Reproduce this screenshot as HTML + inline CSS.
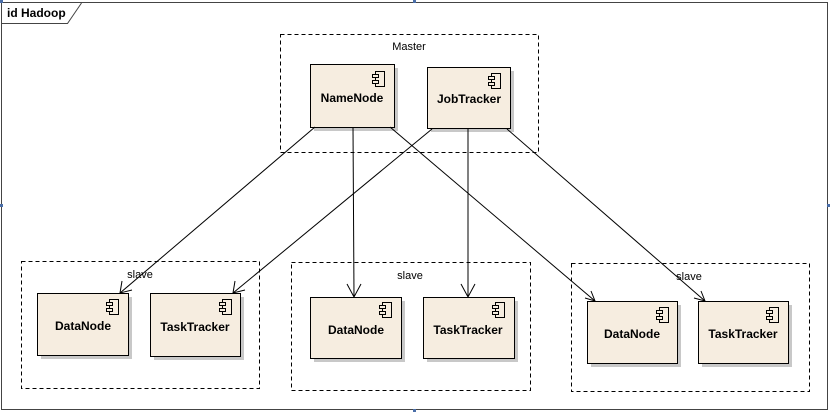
<!DOCTYPE html>
<html><head><meta charset="utf-8"><style>
html,body{margin:0;padding:0;background:#fff;}
svg{display:block;}
text{font-family:"Liberation Sans",sans-serif;}
.b{font-weight:bold;font-size:12px;}
</style></head><body>
<svg width="830" height="412" viewBox="0 0 830 412" xmlns="http://www.w3.org/2000/svg">
<defs>
<g id="ic">
<rect x="3" y="0" width="9" height="15" fill="none" stroke="#000"/>
<rect x="0" y="3" width="6" height="3" fill="#f6ede0" stroke="#000"/>
<rect x="0" y="9" width="6" height="3" fill="#f6ede0" stroke="#000"/>
</g>
</defs>
<rect x="1.5" y="2.5" width="826" height="407" fill="#fff" stroke="#444" stroke-width="1"/>
<polyline points="1.5,23.5 67.5,23.5 81.5,3" fill="none" stroke="#444"/>
<text x="7" y="17" class="b" font-size="12">id Hadoop</text>

<g fill="none" stroke="#000" stroke-dasharray="4,3">
<rect x="280.5" y="34.5" width="258" height="118"/>
<rect x="21.5" y="261.5" width="238" height="127"/>
<rect x="291.5" y="262.5" width="239" height="128"/>
<rect x="571.5" y="263.5" width="238" height="128"/>
</g>
<g font-size="11" text-anchor="middle">
<text x="409" y="50">Master</text>
<text x="140" y="278">slave</text>
<text x="410" y="279">slave</text>
<text x="689" y="280">slave</text>
</g>

<!-- components -->
<g fill="#c8c8c8">
<rect x="314" y="68" width="84" height="63"/>
<rect x="431" y="71" width="83" height="61"/>
<rect x="41" y="297" width="91" height="62"/>
<rect x="154" y="297" width="90" height="63"/>
<rect x="314" y="301" width="91" height="61"/>
<rect x="427" y="301" width="91" height="61"/>
<rect x="591" y="305" width="90" height="62"/>
<rect x="702" y="305" width="90" height="62"/>
</g>
<g fill="#f6ede0" stroke="#000">
<rect x="310.5" y="64.5" width="84" height="63"/>
<rect x="427.5" y="67.5" width="83" height="61"/>
<rect x="37.5" y="293.5" width="91" height="62"/>
<rect x="150.5" y="293.5" width="90" height="63"/>
<rect x="310.5" y="297.5" width="91" height="61"/>
<rect x="423.5" y="297.5" width="91" height="61"/>
<rect x="587.5" y="301.5" width="90" height="62"/>
<rect x="698.5" y="301.5" width="90" height="62"/>
</g>
<use href="#ic" x="372.5" y="71.5"/>
<use href="#ic" x="488.5" y="73.5"/>
<use href="#ic" x="106.5" y="299.5"/>
<use href="#ic" x="219.5" y="299.5"/>
<use href="#ic" x="379.5" y="302.5"/>
<use href="#ic" x="492.5" y="302.5"/>
<use href="#ic" x="656.5" y="307.5"/>
<use href="#ic" x="766.5" y="307.5"/>
<g class="b" text-anchor="middle">
<text x="352" y="102">NameNode</text>
<text x="469" y="103">JobTracker</text>
<text x="83" y="330">DataNode</text>
<text x="195" y="331">TaskTracker</text>
<text x="356" y="334">DataNode</text>
<text x="468" y="334">TaskTracker</text>
<text x="632" y="338">DataNode</text>
<text x="743" y="338">TaskTracker</text>
</g>

<!-- connectors -->
<g stroke="#000" fill="none" stroke-width="1">
<line x1="315" y1="127" x2="120" y2="293"/>
<line x1="353" y1="127" x2="354" y2="297"/>
<line x1="390" y1="127" x2="595" y2="301"/>
<line x1="432" y1="129" x2="233" y2="293"/>
<line x1="468" y1="129" x2="468" y2="297"/>
<line x1="507" y1="129" x2="705" y2="301"/>
<!-- arrowheads -->
<polyline points="122,281 120,293 132,290"/>
<polyline points="347,284 354,297 361,284"/>
<polyline points="585,298 595,301 591,291"/>
<polyline points="235,281 233,293 245,290"/>
<polyline points="461,284 468,297 475,284"/>
<polyline points="694,298 705,301 701,291"/>
</g>
<rect x="413" y="409" width="3" height="3" fill="#4a6ea8"/>
<rect x="827" y="204" width="3" height="3" fill="#4a6ea8"/>
<rect x="0" y="204" width="3" height="3" fill="#4a6ea8"/>
<rect x="413" y="0" width="3" height="3" fill="#4a6ea8"/>
<rect x="0" y="0" width="3" height="3" fill="#4a6ea8"/>
</svg>
</body></html>
